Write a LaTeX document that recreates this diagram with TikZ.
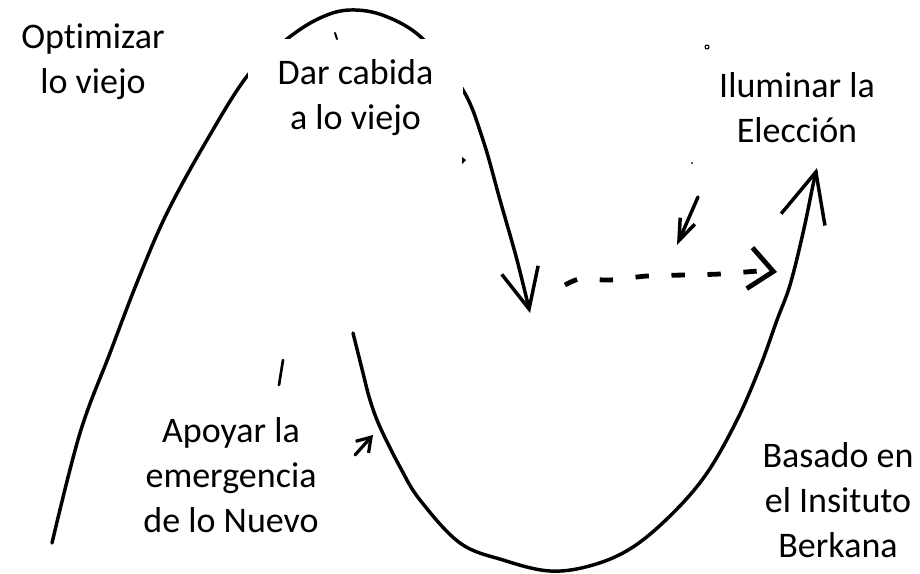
\documentclass[tikz,border=0pt]{standalone}
\usepackage{fontspec}
\setmainfont{Carlito}[Ligatures=NoCommon]
\usetikzlibrary{arrows.meta}

\begin{document}
\begin{tikzpicture}[x=0.75pt, y=-0.75pt, line cap=round, line join=round,
    txt/.style={align=center, font=\fontsize{27}{33.75}\selectfont, inner sep=0pt},
    sketch/.style={line width=2.6pt},
    dashy/.style={line width=3.6pt, line cap=butt, dash pattern=on 10pt off 17pt},
    speck/.style={line width=1.5pt}]
    \useasboundingbox (0,0) rectangle (920,574);

    % the old loop, over the top and down
    \draw[sketch, -{Straight Barb[length=30pt,width=28pt]}]
        plot[smooth, tension=0.6] coordinates {(52,543) (80,433) (110,353) (138,280) (167,213)
        (207,140) (248,75) (287,39) (320,18) (350,10) (385,16) (423,39) (463,90) (483,140)
        (500,200) (517,260) (530,313)};

    % the new loop, down and up again
    \draw[sketch, -{Straight Barb[length=37pt,width=34pt]}]
        plot[smooth, tension=0.6] coordinates {(353,333) (363,373) (370,400) (380,427) (400,467)
        (420,500) (460,543) (503,560) (550,571) (593,565) (633,547) (673,513) (707,473)
        (737,420) (760,367) (777,320) (790,285) (803,233) (813,185) (817,168)};

    % across to the choice
    \draw[dashy, -{Straight Barb[length=18pt,width=31pt]}]
        plot[smooth] coordinates {(565,285) (580,279) (610,280) (647,276) (685,275) (720,274)
        (760,271) (777,272)};

    \node[txt] (opt) at (93,62) {Optimizar\\lo viejo};
    \node[txt, fill=white, minimum width=161pt, minimum height=88pt] (dar) at (355.5,98)
        {Dar cabida\\a lo viejo};
    \node[txt] (ilu) at (797,108) {Iluminar la\\Elección};
    \node[txt] (apo) at (231,475) {Apoyar la\\emergencia\\de lo Nuevo};
    \node[txt] (bas) at (838,500) {Basado en\\el Insituto\\Berkana};

    % small strokes
    \coordinate (a1) at (698,197);
    \coordinate (a2) at (677,245);
    \draw[line width=2.6pt, -{Straight Barb[length=16pt,width=12pt]}] (a1) -- (a2);
    \coordinate (b1) at (355,455);
    \coordinate (b2) at (373,435);
    \draw[line width=2.4pt, -{Straight Barb[length=10pt,width=13pt]}] (b1) -- (b2);

    \draw[line width=2pt] (283,360) -- (279,385);
    \draw[speck] (335,33) -- (337,39);
    \fill (462,157) -- (466,160) -- (462,164) -- cycle;
    \draw[line width=0.8pt] (707,47) circle (2);
    \fill (692,163) circle (1);
\end{tikzpicture}
\end{document}
